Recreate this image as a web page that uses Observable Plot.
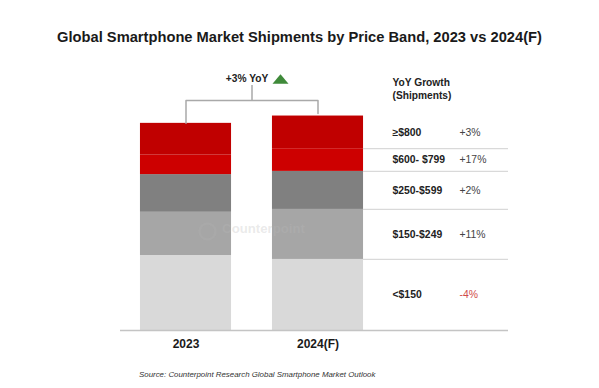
<!DOCTYPE html>
<html>
<head>
<meta charset="utf-8">
<script src="https://cdn.jsdelivr.net/npm/d3@7"></script>
<script src="https://cdn.jsdelivr.net/npm/@observablehq/plot@0.6"></script>
<style>
  html, body { margin: 0; padding: 0; background: #fff; }
  body { width: 599px; height: 388px; overflow: hidden; font-family: "Liberation Sans", Arial, sans-serif; }
  #title { height: 60px; box-sizing: border-box; padding-top: 28px; line-height: 18px; font-size: 14.7px; font-weight: bold; color: #1a1a1a; text-align: center; }
  #chart svg { display: block; }
  #source { padding-left: 139px; padding-top: 10px; font-size: 7.9px; line-height: 10px; font-style: italic; color: #333; }
</style>
</head>
<body>
<div id="title">Global Smartphone Market Shipments by Price Band, 2023 vs 2024(F)</div>
<div id="chart"></div>
<div id="source">Source: Counterpoint Research Global Smartphone Market Outlook</div>
<script>
// ---- data (millions of units) ----
const categories = ["2023", "2024(F)"];
const bands = ["<$150", "$150-$249", "$250-$599", "$600- $799", "≥$800"]; // bottom to top
const shipments2023 = [420, 242, 211, 109, 178];
const shipments2024 = [398, 280, 213, 127, 183];
const yoyGrowth = ["-4%", "+11%", "+2%", "+17%", "+3%"];
const totalGrowth = "+3% YoY";
const tableHeader = ["YoY Growth", "(Shipments)"];
const watermark = "Counterpoint";

// ---- derived table ----
const series = [shipments2023, shipments2024];
const rows = [];
categories.forEach((c, i) => {
  let acc = 0;
  bands.forEach((b, j) => {
    rows.push({category: c, i, band: b, y1: acc, y2: acc + series[i][j]});
    acc += series[i][j];
  });
});
const totals = series.map(s => d3.sum(s));
const cum2024 = d3.cumsum(shipments2024);
const mid2024 = shipments2024.map((v, j) => cum2024[j] - v / 2);
const boundaries2024 = cum2024.slice(0, -1);

// ---- layout helpers ----
const H = 300, BASE = 270, UNITS_PER_PX = 5.6;
const yU = px => (BASE - px) * UNITS_PER_PX;      // svg px -> y units
const xU = px => (px - 185.5) / 132;               // page px -> x units
const HALF = 0.345;
const colLabel = xU(392), colGrowth = xU(459), xRight = xU(508);

const lvl = yU(40), stubTop = yU(25), stub2024 = yU(53);

const flatTriangle = {
  draw(ctx, size) {
    const s = Math.sqrt(size / Math.PI);
    ctx.moveTo(0, -0.6 * s);
    ctx.lineTo(s, 0.6 * s);
    ctx.lineTo(-s, 0.6 * s);
    ctx.closePath();
  }
};

const font = "Liberation Sans, Arial, sans-serif";

const chart = Plot.plot({
  width: 599,
  height: H,
  marginLeft: 120,
  marginRight: 91,
  marginTop: 0,
  marginBottom: 0,
  style: {fontFamily: font, background: "#fff", overflow: "visible"},
  x: {domain: [xU(120), xU(508)], range: [120, 508], axis: null},
  y: {domain: [0, 1200], range: [BASE, BASE - 1200 / UNITS_PER_PX], axis: null},
  color: {domain: bands, range: ["#d9d9d9", "#a6a6a6", "#808080", "#cd0000", "#c00000"]},
  marks: [
    Plot.rect(rows, {x1: d => d.i - HALF, x2: d => d.i + HALF, y1: "y1", y2: "y2", fill: "band"}),
    // watermark (faint, over the bars)
    Plot.dot([watermark], {x: () => xU(207), y: () => yU(171), r: 8, stroke: "#b0b0b0", strokeWidth: 2.5, strokeOpacity: 0.3}),
    Plot.text([watermark], {x: () => xU(263), y: () => yU(168), text: d => d, fontSize: 13.2, fontWeight: "bold", fill: "#b8b8b8", fillOpacity: 0.3}),
    // table separators and baseline
    Plot.ruleY(boundaries2024, {x1: () => 1 + HALF, x2: () => xRight, stroke: "#d9d9d9", strokeWidth: 1.2}),
    Plot.ruleY([0], {stroke: "#c4c4c4", strokeWidth: 1.5}),
    // category labels
    Plot.text(categories, {x: (d, i) => i, y: () => 0, dy: 14, text: d => d, fontSize: 12, fontWeight: "bold", fill: "#1a1a1a"}),
    // table
    Plot.text([tableHeader.join("\n")], {x: () => colLabel, y: () => yU(27.5), text: d => d, textAnchor: "start", lineAnchor: "middle", lineHeight: 1.27, fontSize: 10.2, fontWeight: "bold", fill: "#222"}),
    Plot.text(bands, {x: () => colLabel, y: (d, j) => mid2024[j], text: d => d, textAnchor: "start", fontSize: 10.4, fontWeight: "bold", fill: "#222"}),
    Plot.text(yoyGrowth, {filter: d => !d.startsWith("-"), x: () => colGrowth, y: (d, j) => mid2024[j], text: d => d, textAnchor: "start", fontSize: 10.4, fill: "#444"}),
    Plot.text(yoyGrowth, {filter: d => d.startsWith("-"), x: () => colGrowth, y: (d, j) => mid2024[j], text: d => d, textAnchor: "start", fontSize: 10.4, fill: "#d04a4a"}),
    // bracket
    Plot.line([[0, totals[0]], [0, lvl], [1, lvl], [1, stub2024]], {x: d => d[0], y: d => d[1], stroke: "#a9a9a9", strokeWidth: 1.5}),
    Plot.ruleX([0.5], {y1: () => lvl, y2: () => stubTop, stroke: "#a9a9a9", strokeWidth: 1.5}),
    Plot.text([totalGrowth], {x: () => xU(246.5), y: () => yU(18), text: d => d, fontSize: 10.2, fontWeight: "bold", fill: "#222"}),
    Plot.dot([totalGrowth], {x: () => xU(280), y: () => yU(18.5), r: 8, symbol: flatTriangle, fill: "#3f8a3a", stroke: "none"})
  ]
});
document.getElementById("chart").append(chart);
</script>
</body>
</html>
